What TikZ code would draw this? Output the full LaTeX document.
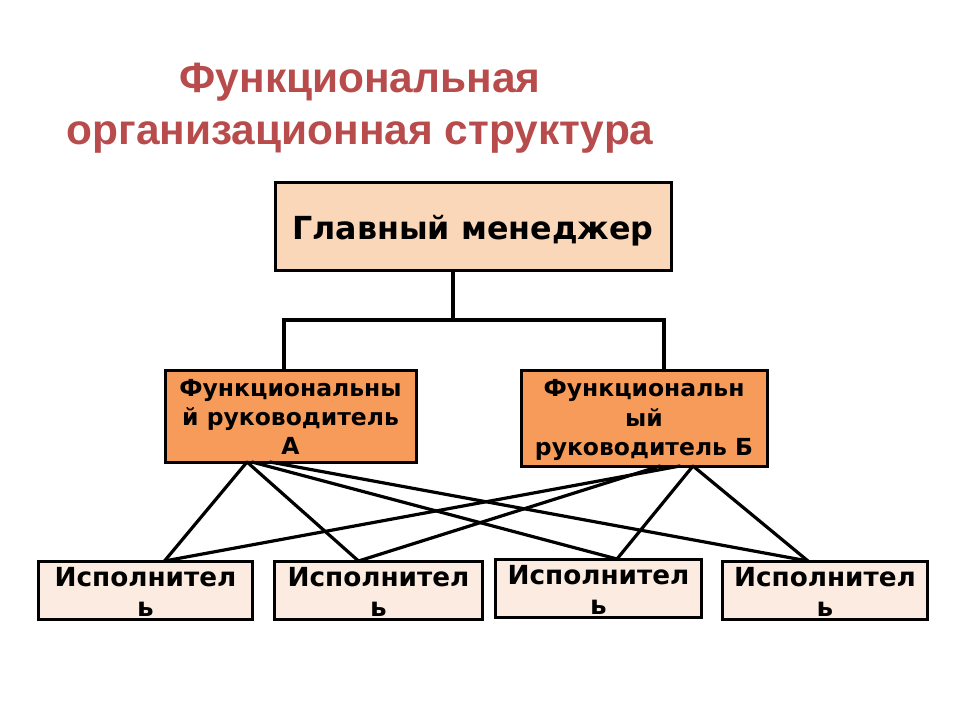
\documentclass[tikz,border=0pt]{standalone}
\usepackage{fontspec}
\setmainfont{DejaVu Sans}
\newfontfamily\titlefont{Liberation Sans}
\usetikzlibrary{calc}
\definecolor{titlecol}{HTML}{B84C4C}
\definecolor{peach}{HTML}{FAD7B8}
\definecolor{orangebox}{HTML}{F79B5B}
\definecolor{lightbox}{HTML}{FCEBE0}
\tikzset{
  boxbase/.style={draw=black, line width=2.25pt, inner sep=0pt, outer sep=0pt},
  mainbox/.style={boxbase, fill=peach, minimum width=297pt, minimum height=66pt},
  funcbox/.style={boxbase, fill=orangebox},
  execbox/.style={boxbase, fill=lightbox, minimum height=43.5pt},
  conn/.style={line width=2.4pt, line cap=round},
  boxtext/.style={align=center, inner sep=0pt, font=\bfseries\fontsize{17.6}{21.8}\selectfont},
  exectext/.style={align=center, inner sep=0pt, font=\bfseries\fontsize{19.7}{22.5}\selectfont},
}
\begin{document}
\begin{tikzpicture}[x=0.75pt, y=-0.75pt]
\useasboundingbox[fill=white] (0,0) rectangle (960,720);
% title
\node[align=center, text=titlecol, font=\titlefont\bfseries\fontsize{31.8}{39}\selectfont] (title) at (360,108)
  {Функциональная\\организационная структура};
% boxes
\node[mainbox] (M) at (473,227) {};
\node[font=\bfseries\fontsize{23.8}{27}\selectfont] (Mt) at (473,231) {Главный менеджер};
\node[funcbox, minimum width=188.25pt, minimum height=69pt] (A) at (290.5,416) {};
\node[boxtext] (At) at (290.5,417) {Функциональны\\й руководитель\\А};
\node[funcbox, minimum width=184.5pt, minimum height=72pt] (B) at (644,418) {};
\node[boxtext] (Bt) at (644,420) {Функциональн\\ый\\руководитель Б};
\node[execbox, minimum width=161pt] (E1) at (145.5,590) {};
\node[execbox, minimum width=156pt] (E2) at (378.5,590) {};
\node[execbox, minimum width=154pt] (E3) at (598.5,588) {};
\node[execbox, minimum width=154pt] (E4) at (825,590) {};
\node[exectext, anchor=north] (E1t) at (145.5,567) {Исполнител\\ь};
\node[exectext, anchor=north] (E2t) at (378.5,567) {Исполнител\\ь};
\node[exectext, anchor=north] (E3t) at (598.5,565) {Исполнител\\ь};
\node[exectext, anchor=north] (E4t) at (825,567) {Исполнител\\ь};
% tree connectors
\coordinate (j) at (453,320);
\draw[conn] ($(M.south)+(-20,0)$) -- (j);
\draw[conn] ($(A.north)+(-6.5,0)$) |- (j) -| ($(B.north)+(20,0)$);
% cross connectors
\draw[conn] ($(A.south)+(-43.5,0)$) -- ($(E1.north)+(19,0)$);
\draw[conn] ($(A.south)+(-43.5,0)$) -- ($(E2.north)+(-20,0)$);
\draw[conn] ($(A.south)+(-38.5,0)$) -- ($(E3.north)+(18.5,0)$);
\draw[conn] ($(A.south)+(-20.5,0)$) -- ($(E4.north)+(-17,0)$);
\draw[conn] ($(B.south)+(49,0)$) -- ($(E3.north)+(18.5,0)$);
\draw[conn] ($(B.south)+(49,0)$) -- ($(E4.north)+(-17,0)$);
\draw[conn] ($(B.south)+(36,0)$) -- ($(E1.north)+(19,0)$);
\draw[conn] ($(B.south)+(16,0)$) -- ($(E2.north)+(-20,0)$);
\end{tikzpicture}
\end{document}
